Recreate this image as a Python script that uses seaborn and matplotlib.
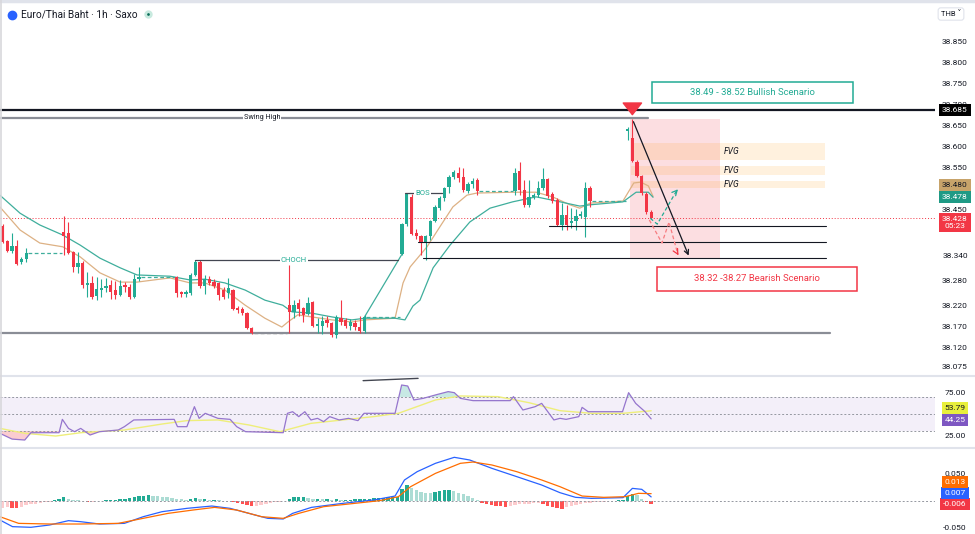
import numpy as np
import pandas as pd
import matplotlib
matplotlib.use("Agg")
import matplotlib.pyplot as plt
import seaborn as sns
from matplotlib.patches import Rectangle

GAP = 7  # flat no-trade bars between sessions

# OHLC per session
open_s = [
    [38.410, 38.374, 38.350, 38.362, 38.324, 38.331],
    [38.395, 38.393, 38.348, 38.312, 38.321, 38.269, 38.274, 38.243, 38.257, 38.262, 38.269, 38.257, 38.245, 38.269, 38.264, 38.241, 38.284],
    [38.288, 38.252, 38.248, 38.250, 38.293, 38.324, 38.267, 38.283, 38.276, 38.274, 38.257, 38.250, 38.257, 38.214, 38.212, 38.202, 38.167],
    [38.221, 38.205, 38.226, 38.214, 38.200, 38.229, 38.172, 38.172, 38.186, 38.179, 38.150, 38.190, 38.186, 38.172, 38.179, 38.169, 38.160],
    [38.343, 38.414, 38.479, 38.393, 38.386, 38.371, 38.386, 38.421, 38.452, 38.476, 38.502, 38.526, 38.536, 38.526, 38.493, 38.509, 38.519],
    [38.493, 38.541, 38.495, 38.460, 38.479, 38.483, 38.500, 38.521, 38.486, 38.471, 38.412, 38.436, 38.417, 38.421, 38.433, 38.431, 38.500],
    [38.636, 38.619, 38.562, 38.529, 38.486, 38.443],
]
high_s = [
    [38.415, 38.376, 38.393, 38.376, 38.336, 38.357],
    [38.434, 38.419, 38.350, 38.348, 38.326, 38.300, 38.290, 38.288, 38.283, 38.286, 38.281, 38.279, 38.280, 38.276, 38.271, 38.295, 38.312],
    [38.290, 38.255, 38.257, 38.298, 38.329, 38.329, 38.293, 38.290, 38.283, 38.276, 38.264, 38.286, 38.260, 38.218, 38.216, 38.205, 38.169],
    [38.317, 38.233, 38.236, 38.217, 38.240, 38.231, 38.190, 38.195, 38.195, 38.181, 38.198, 38.233, 38.190, 38.188, 38.186, 38.195, 38.198],
    [38.416, 38.488, 38.486, 38.403, 38.388, 38.388, 38.424, 38.459, 38.481, 38.502, 38.531, 38.543, 38.550, 38.548, 38.514, 38.524, 38.524],
    [38.548, 38.562, 38.520, 38.520, 38.488, 38.517, 38.548, 38.524, 38.490, 38.476, 38.464, 38.459, 38.452, 38.450, 38.445, 38.514, 38.505],
    [38.645, 38.665, 38.567, 38.531, 38.490, 38.448],
]
low_s = [
    [38.370, 38.347, 38.346, 38.317, 38.319, 38.324],
    [38.340, 38.343, 38.300, 38.298, 38.262, 38.241, 38.236, 38.233, 38.241, 38.252, 38.236, 38.236, 38.243, 38.252, 38.236, 38.238, 38.279],
    [38.241, 38.241, 38.241, 38.245, 38.290, 38.262, 38.248, 38.270, 38.262, 38.233, 38.236, 38.238, 38.210, 38.202, 38.198, 38.164, 38.152],
    [38.155, 38.190, 38.195, 38.181, 38.198, 38.170, 38.155, 38.152, 38.170, 38.145, 38.143, 38.174, 38.167, 38.162, 38.162, 38.155, 38.155],
    [38.341, 38.410, 38.388, 38.379, 38.341, 38.329, 38.376, 38.419, 38.448, 38.469, 38.488, 38.521, 38.514, 38.490, 38.488, 38.500, 38.483],
    [38.483, 38.483, 38.455, 38.455, 38.474, 38.479, 38.495, 38.476, 38.464, 38.409, 38.400, 38.400, 38.405, 38.400, 38.428, 38.383, 38.455],
    [38.614, 38.562, 38.526, 38.483, 38.438, 38.426],
]
close_s = [
    [38.372, 38.350, 38.362, 38.319, 38.331, 38.345],
    [38.386, 38.345, 38.312, 38.321, 38.269, 38.274, 38.241, 38.260, 38.262, 38.267, 38.252, 38.245, 38.267, 38.264, 38.241, 38.284, 38.288],
    [38.250, 38.248, 38.252, 38.293, 38.324, 38.267, 38.283, 38.274, 38.267, 38.245, 38.241, 38.262, 38.212, 38.210, 38.202, 38.167, 38.155],
    [38.205, 38.221, 38.212, 38.198, 38.226, 38.172, 38.176, 38.183, 38.179, 38.150, 38.193, 38.181, 38.172, 38.181, 38.169, 38.160, 38.193],
    [38.414, 38.486, 38.390, 38.386, 38.371, 38.386, 38.421, 38.455, 38.476, 38.500, 38.526, 38.538, 38.524, 38.495, 38.509, 38.517, 38.493],
    [38.536, 38.495, 38.460, 38.479, 38.483, 38.500, 38.521, 38.481, 38.469, 38.412, 38.436, 38.412, 38.421, 38.433, 38.438, 38.500, 38.469],
    [38.640, 38.564, 38.529, 38.488, 38.443, 38.428],
]

# moving averages (bar, price)
ema_fast = [(-0.6, 38.455), (3.7, 38.400), (7.9, 38.369), (12.8, 38.360), (16.5, 38.336), (20.7, 38.298),
            (25.0, 38.276), (28.6, 38.276), (35.6, 38.286), (39.9, 38.274), (43.0, 38.274), (47.3, 38.257),
            (51.6, 38.221), (55.8, 38.190), (59.4, 38.169), (60.7, 38.181), (62.8, 38.198), (65.8, 38.193),
            (70.1, 38.186), (74.3, 38.181), (77.1, 38.186), (83.5, 38.190), (85.2, 38.274), (86.7, 38.312),
            (90.3, 38.360), (93.0, 38.407), (95.8, 38.455), (98.8, 38.483), (100.9, 38.488), (108.5, 38.490),
            (113.5, 38.490), (117.0, 38.479), (120.7, 38.460), (122.8, 38.452), (125.0, 38.464), (132.0, 38.469),
            (134.3, 38.512), (135.8, 38.514), (137.4, 38.505), (138.4, 38.480)]
ema_slow = [(-0.6, 38.483), (3.7, 38.440), (7.9, 38.412), (12.8, 38.388), (16.5, 38.364), (20.7, 38.333),
            (25.0, 38.310), (28.6, 38.293), (35.6, 38.290), (39.9, 38.281), (43.0, 38.283), (47.3, 38.274),
            (51.6, 38.257), (55.8, 38.233), (59.6, 38.221), (61.6, 38.205), (65.8, 38.202), (70.1, 38.193),
            (74.3, 38.186), (77.1, 38.190), (83.5, 38.190), (85.6, 38.186), (87.3, 38.219), (88.8, 38.233),
            (91.6, 38.310), (95.2, 38.364), (99.4, 38.419), (103.7, 38.452), (108.5, 38.467), (113.5, 38.479),
            (117.0, 38.471), (122.8, 38.457), (125.0, 38.460), (132.0, 38.467), (134.8, 38.490), (137.4, 38.490),
            (138.4, 38.478)]

rsi = [(-0.6, 27.3), (2.0, 20.5), (4.7, 19.4), (6.0, 28.0), (12.0, 28.0), (12.7, 43.7), (14.0, 33.1), (15.3, 29.2),
       (16.6, 33.1), (18.6, 25.3), (20.6, 29.2), (24.6, 31.2), (25.9, 35.1), (27.9, 43.0), (36.5, 43.7),
       (37.2, 35.1), (39.2, 35.1), (40.8, 58.6), (41.8, 44.9), (43.1, 50.8), (45.8, 44.9), (48.4, 43.7),
       (49.8, 35.1), (51.7, 29.2), (59.7, 28.0), (60.6, 50.8), (61.7, 52.7), (63.0, 46.9), (64.3, 52.7),
       (65.6, 43.0), (67.0, 44.9), (68.3, 41.0), (69.6, 46.9), (71.6, 43.0), (73.6, 44.9), (75.6, 42.2),
       (76.9, 50.8), (83.5, 50.8), (84.9, 84.1), (86.2, 82.9), (87.5, 66.5), (89.5, 68.4), (92.1, 72.4),
       (94.8, 76.3), (96.1, 75.1), (97.4, 68.4), (100.1, 65.7), (108.0, 65.7), (108.7, 70.4), (110.7, 54.7),
       (113.3, 58.6), (114.7, 62.5), (116.0, 52.7), (117.3, 43.0), (118.6, 44.9), (119.9, 43.7), (122.6, 46.9),
       (123.3, 57.8), (124.6, 52.7), (131.9, 52.7), (133.2, 75.1), (134.7, 62.5), (136.7, 52.7), (138.0, 44.25)]
rsi_ma = [(-0.6, 33.1), (4.7, 27.3), (11.3, 24.1), (16.6, 28.0), (25.9, 31.2), (33.9, 38.2), (39.2, 42.2),
          (45.8, 43.0), (52.4, 37.1), (59.0, 29.2), (65.6, 39.0), (72.3, 43.0), (78.9, 46.9), (84.2, 50.8),
          (92.1, 66.5), (97.4, 71.2), (105.4, 70.4), (112.0, 63.3), (118.6, 53.9), (125.3, 50.8), (132.0, 50.8),
          (138.0, 53.79)]

macd = [(-0.6, -0.0357), (2.1, -0.0481), (6.0, -0.0493), (10.0, -0.0450), (14.0, -0.0370), (16.6, -0.0389),
        (20.6, -0.0432), (25.9, -0.0420), (29.9, -0.0297), (33.9, -0.0204), (39.2, -0.0142), (44.5, -0.0099),
        (48.4, -0.0142), (52.4, -0.0235), (56.4, -0.0327), (59.7, -0.0339), (61.7, -0.0235), (65.7, -0.0124),
        (72.3, -0.0050), (78.9, 0.0012), (83.5, 0.0086), (85.5, 0.0383), (88.2, 0.0537), (92.1, 0.0692),
        (96.1, 0.0803), (99.4, 0.0753), (104.1, 0.0599), (109.4, 0.0445), (114.7, 0.0290), (118.6, 0.0148),
        (121.9, 0.0062), (125.3, 0.0043), (132.0, 0.0056), (134.0, 0.0228), (136.0, 0.0210), (138.0, 0.007)]
signal = [(-0.6, -0.0296), (3.4, -0.0420), (10.0, -0.0432), (16.6, -0.0432), (24.6, -0.0420), (29.9, -0.0327),
          (35.2, -0.0235), (40.5, -0.0173), (45.1, -0.0124), (49.8, -0.0173), (55.1, -0.0297), (59.7, -0.0327),
          (63.0, -0.0235), (68.3, -0.0111), (73.6, -0.0062), (80.2, 0.0000), (84.2, 0.0074), (86.8, 0.0259),
          (92.1, 0.0506), (97.4, 0.0692), (100.1, 0.0716), (104.1, 0.0661), (109.4, 0.0537), (114.7, 0.0383),
          (118.6, 0.0259), (123.3, 0.0086), (127.9, 0.0062), (132.5, 0.0074), (135.3, 0.0136), (138.0, 0.013)]
hist = [-0.014, -0.012, -0.013, -0.014, -0.012, -0.008, -0.007, -0.006, -0.005, -0.003,
        -0.002, 0.001, 0.003, 0.006, 0.004, 0.002, 0.001, -0.001, -0.003, -0.002,
        -0.001, 0.000, 0.001, 0.002, 0.002, 0.003, 0.004, 0.005, 0.007, 0.008,
        0.009, 0.010, 0.009, 0.008, 0.007, 0.006, 0.005, 0.004, 0.003, 0.002,
        0.004, 0.005, 0.003, 0.003, 0.002, 0.002, 0.001, 0.000, -0.001, -0.003,
        -0.004, -0.006, -0.008, -0.010, -0.009, -0.008, -0.006, -0.004, -0.003, -0.002,
        -0.001, 0.004, 0.006, 0.006, 0.007, 0.005, 0.004, 0.004, 0.003, 0.003,
        0.002, 0.003, 0.002, 0.002, 0.002, 0.003, 0.003, 0.004, 0.004, 0.005,
        0.005, 0.005, 0.006, 0.006, 0.007, 0.022, 0.029, 0.024, 0.020, 0.017,
        0.015, 0.014, 0.016, 0.018, 0.019, 0.019, 0.018, 0.015, 0.012, 0.009,
        0.005, 0.001, -0.004, -0.006, -0.008, -0.009, -0.010, -0.011, -0.010, -0.008,
        -0.007, -0.006, -0.006, -0.005, -0.005, -0.007, -0.010, -0.012, -0.014, -0.016,
        -0.012, -0.010, -0.008, -0.006, -0.005, -0.004, -0.003, -0.002, -0.002, -0.001,
        -0.001, 0.001, 0.002, 0.009, 0.012, 0.010, 0.004, -0.002, -0.006]

price_ticks = [38.850, 38.800, 38.750, 38.700, 38.650, 38.600, 38.550, 38.450, 38.340, 38.280, 38.220, 38.170, 38.120, 38.075]
fvg_zones = [(38.567, 38.607), (38.531, 38.552), (38.500, 38.517)]
last_price = 38.428
swing_high = 38.667
top_level = 38.685
range_low = 38.155
support_levels = [(116.2, 38.410), (88.4, 38.371), (89.4, 38.333)]
choch_level = 38.328
bos_level = 38.488


def join(sessions):
    out = []
    for i, s in enumerate(sessions):
        if i:
            out += [np.nan] * GAP
        out += s
    return np.array(out, dtype=float)


opens, highs, lows, closes = (join(s) for s in (open_s, high_s, low_s, close_s))
bars = np.arange(len(opens))

GREEN, RED = "#22ab94", "#f23645"
TEAL_L, PINK = "#acdcd4", "#fccbcd"
TXT = "#131722"
TICK_FS = 6.0

sns.set_theme(style="white")
plt.rcParams["font.family"] = ["Roboto", "DejaVu Sans"]

fig = plt.figure(figsize=(9.75, 5.34), dpi=100)
W = 935 / 975
ax = fig.add_axes([0, 1 - 375 / 534, W, 372 / 534])
ax_rsi = fig.add_axes([0, 1 - 447 / 534, W, 70 / 534])
ax_macd = fig.add_axes([0, 0, W, 85 / 534])

for a in (ax, ax_rsi, ax_macd):
    a.set_xlim(-0.57, 198.4)
    for s in a.spines.values():
        s.set_visible(False)
    a.set_xticks([])
    a.yaxis.tick_right()
    a.tick_params(axis="y", length=0, pad=14.4, labelsize=TICK_FS, colors=TXT)

# ---------------- price pane ----------------
ax.set_ylim(38.0548, 38.9405)
ax.set_yticks(price_ticks)
ax.set_yticklabels([f"{t:.3f}" for t in price_ticks])

ax.axhline(last_price, color=RED, lw=0.7, ls=(0, (1, 2)), zorder=1)

df_fast = pd.DataFrame(ema_fast, columns=["bar", "price"])
df_slow = pd.DataFrame(ema_slow, columns=["bar", "price"])
sns.lineplot(data=df_fast, x="bar", y="price", ax=ax, color="#ddb184", lw=0.9, estimator=None, sort=False, zorder=2)
sns.lineplot(data=df_slow, x="bar", y="price", ax=ax, color="#3fae9c", lw=0.9, estimator=None, sort=False, zorder=2)

valid = ~np.isnan(opens)
up = closes >= opens
col = np.where(up, GREEN, RED)
ax.vlines(bars[valid], lows[valid], highs[valid], colors=col[valid], lw=0.8, zorder=3)
body_lo = np.minimum(opens, closes)
body_h = np.maximum(np.abs(closes - opens), 0.0015)
ax.bar(bars[valid], body_h[valid], bottom=body_lo[valid], width=0.7, color=col[valid], zorder=4, lw=0)

# no-trade stretches drawn as dashed lines at the last close
start = 0
for i, s in enumerate(open_s[:-1]):
    end = start + len(s) - 1
    nxt = end + GAP + 1
    c = "#4a4a4a" if i == 2 else "#3fae9c"
    ax.plot([end + 0.4, nxt - 0.4], [closes[end]] * 2, color=c, lw=0.9, ls=(0, (3, 2)), zorder=2)
    if i == 3:
        ax.plot([end, nxt], [closes[end], opens[nxt]], color="#3fae9c", lw=0.9, zorder=2)
    start = nxt

# zones
ax.add_patch(Rectangle((133.4, 38.333), 19.3, 38.664 - 38.333, fc=RED, alpha=0.16, lw=0, zorder=0))
for lo, hi in fvg_zones:
    ax.add_patch(Rectangle((133.8, lo), 175.0 - 133.8, hi - lo, fc="#ff9800", alpha=0.13, lw=0, zorder=0))
    ax.text(153.4, (lo + hi) / 2, "FVG", fontsize=6.2, style="italic", color=TXT, va="center", ha="left", zorder=5)

# levels
ax.axhline(top_level, color=TXT, lw=1.6, zorder=5)
ax.plot([-0.57, 137.3], [swing_high] * 2, color="#8a8d96", lw=1.6, zorder=5)
ax.text(55.2, swing_high, "Swing High", fontsize=5.2, color=TXT, ha="center", va="center", zorder=6,
        bbox=dict(boxstyle="square,pad=0.15", fc="white", ec="none"))
ax.plot([-0.57, 176.0], [range_low] * 2, color="#8a8d96", lw=1.6, zorder=2)
for x0, lvl in support_levels:
    ax.plot([x0, 175.3], [lvl] * 2, color=TXT, lw=0.8, zorder=5)
ax.plot([41, 84.1], [choch_level] * 2, color="#434651", lw=0.9, zorder=5)
ax.text(62.0, choch_level, "CHOCH", fontsize=5.5, color=GREEN, ha="center", va="center", zorder=6,
        bbox=dict(boxstyle="square,pad=0.15", fc="white", ec="none"))
ax.plot([85.6, 93.5], [bos_level] * 2, color="#434651", lw=0.9, zorder=5)
ax.text(89.4, bos_level, "BOS", fontsize=5.5, color=GREEN, ha="center", va="center", zorder=6,
        bbox=dict(boxstyle="square,pad=0.15", fc="white", ec="none"))

# scenario boxes
ax.add_patch(Rectangle((138.1, 38.702), 42.8, 0.050, fc="white", ec=GREEN, lw=1.1, zorder=6))
ax.text(159.5, 38.727, "38.49 - 38.52 Bullish Scenario", fontsize=6.8, color=GREEN, ha="center", va="center", zorder=7)
ax.add_patch(Rectangle((139.2, 38.255), 42.7, 0.057, fc="white", ec=RED, lw=1.1, zorder=6))
ax.text(160.5, 38.2835, "38.32 -38.27 Bearish Scenario", fontsize=6.8, color=RED, ha="center", va="center", zorder=7)

# arrows
ax.annotate("", xy=(134, 38.668), xytext=(134, 38.700),
            arrowprops=dict(arrowstyle="simple,head_width=1.1,head_length=0.7,tail_width=0.5", fc=RED, ec=RED), zorder=8)
ax.annotate("", xy=(146.2, 38.333), xytext=(134, 38.664),
            arrowprops=dict(arrowstyle="->", color=TXT, lw=0.9, mutation_scale=8), zorder=8)
ax.plot([137.8, 139.3, 143.6], [38.428, 38.414, 38.497], color=GREEN, lw=0.9, ls=(0, (3, 2)), zorder=8)
ax.annotate("", xy=(144.1, 38.502), xytext=(143.0, 38.488),
            arrowprops=dict(arrowstyle="->", color=GREEN, lw=0.9, mutation_scale=9), zorder=8)
ax.plot([137.6, 140.3, 141.8, 143.7], [38.424, 38.369, 38.419, 38.341], color="#f77c80", lw=0.9, ls=(0, (3, 2)), zorder=8)
ax.annotate("", xy=(144.1, 38.334), xytext=(143.3, 38.350),
            arrowprops=dict(arrowstyle="->", color=RED, lw=0.9, mutation_scale=9), zorder=8)


def badge(a, y, text, fc, tc="white", dy=0.0):
    a.annotate(text, xy=(1, y), xycoords=("axes fraction", "data"), xytext=(14.4, dy * 0.72),
               textcoords="offset points", ha="center", va="center", fontsize=TICK_FS, color=tc,
               linespacing=1.2, annotation_clip=False, zorder=10,
               bbox=dict(boxstyle="square,pad=0.35", fc=fc, ec="none"))


badge(ax, top_level, "38.685", "#000000")
badge(ax, df_fast["price"].iloc[-1], "38.480", "#c7a36a", tc=TXT, dy=11)
badge(ax, df_slow["price"].iloc[-1], "38.478", "#1f9a85")
badge(ax, last_price, "38.428\n05:23", RED, dy=-4)

# ---------------- RSI pane ----------------
ax_rsi.set_ylim(11.2, 93.5)
ax_rsi.set_yticks([75, 25])
ax_rsi.set_yticklabels(["75.00", "25.00"])
ax_rsi.axhspan(30, 70, color="#7e57c2", alpha=0.09, lw=0)
for lvl in (70, 50, 30):
    ax_rsi.axhline(lvl, color="#9598a1", lw=0.7, ls=(0, (2, 2)))
df_rsi = pd.DataFrame(rsi, columns=["bar", "v"])
df_rma = pd.DataFrame(rsi_ma, columns=["bar", "v"])
ax_rsi.fill_between(df_rsi["bar"], df_rsi["v"], 70, where=df_rsi["v"] > 70, interpolate=True, color=GREEN, alpha=0.25, lw=0)
ax_rsi.fill_between(df_rsi["bar"], df_rsi["v"], 30, where=df_rsi["v"] < 30, interpolate=True, color=RED, alpha=0.25, lw=0)
sns.lineplot(data=df_rma, x="bar", y="v", ax=ax_rsi, color="#eeee7a", lw=1.0, estimator=None, sort=False)
sns.lineplot(data=df_rsi, x="bar", y="v", ax=ax_rsi, color="#9575cd", lw=0.9, estimator=None, sort=False)
ax_rsi.plot([76.7, 88.4], [89.2, 91.9], color="#434651", lw=1.0)
badge(ax_rsi, df_rma["v"].iloc[-1], "53.79", "#e8ef3c", tc=TXT, dy=2.5)
badge(ax_rsi, df_rsi["v"].iloc[-1], "44.25", "#7e57c2", dy=-1.5)

# ---------------- MACD pane ----------------
ax_macd.set_ylim(-0.0617, 0.0957)
ax_macd.set_yticks([0.05, -0.05])
ax_macd.set_yticklabels(["0.050", "-0.050"])
ax_macd.axhline(0, color="#9598a1", lw=0.7, ls=(0, (2, 2)))
h = np.array(hist)
prev = np.concatenate([[h[0]], h[:-1]])
hcol = np.where(h >= 0, np.where(h >= prev, GREEN, TEAL_L), np.where(h < prev, "#ff5252", PINK))
ax_macd.bar(np.arange(len(h)), h, width=0.72, color=hcol, lw=0)
df_macd = pd.DataFrame(macd, columns=["bar", "v"])
df_sig = pd.DataFrame(signal, columns=["bar", "v"])
sns.lineplot(data=df_macd, x="bar", y="v", ax=ax_macd, color="#2962ff", lw=0.9, estimator=None, sort=False)
sns.lineplot(data=df_sig, x="bar", y="v", ax=ax_macd, color="#ff6d00", lw=0.9, estimator=None, sort=False)
badge(ax_macd, hist[-1], "-0.006", RED)
badge(ax_macd, hist[-1], "0.007", "#2962ff", dy=11)
badge(ax_macd, hist[-1], "0.013", "#ff6d00", dy=22)

for a in (ax, ax_rsi, ax_macd):
    a.set_xlabel("")
    a.set_ylabel("")
    for lab in a.get_yticklabels():
        lab.set_horizontalalignment("center")

# frame details
fig.add_artist(plt.Line2D([0, 1], [1 - 376 / 534] * 2, color="#e0e3eb", lw=1.5))
fig.add_artist(plt.Line2D([0, 1], [1 - 448 / 534] * 2, color="#e0e3eb", lw=1.5))
fig.add_artist(plt.Line2D([0, 1], [1 - 1 / 534] * 2, color="#e0e3eb", lw=2.5))
fig.add_artist(plt.Line2D([0.001, 0.001], [0, 1], color="#d8d8dc", lw=1.2))

fig.add_artist(plt.Line2D([12 / 975], [1 - 15 / 534], marker="o", ms=6, mfc="#2962ff", mec="#2962ff", lw=0))
title = fig.text(21 / 975, 1 - 14 / 534, "Euro/Thai Baht \u00b7 1h \u00b7 Saxo", color=TXT, fontsize=8, va="center")
w = title.get_window_extent(renderer=fig.canvas.get_renderer()).width
title.set_fontsize(8 * 116 / w)
fig.add_artist(plt.Line2D([148 / 975], [1 - 14 / 534], marker="o", ms=4, mfc="#0b6e5a", mec="#c8eadf", mew=2, lw=0))
fig.text(951 / 975, 1 - 14 / 534, "THB \u02c5", color=TXT, fontsize=5.5, ha="center", va="center",
         bbox=dict(boxstyle="round,pad=0.35", fc="white", ec="#e0e3eb", lw=0.8))

fig.savefig("out.png", dpi=100)
